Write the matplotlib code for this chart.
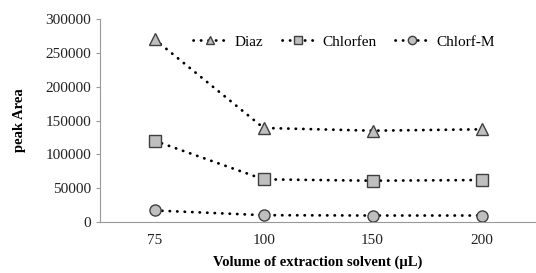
import numpy as np
import matplotlib.pyplot as plt

plt.rcParams['font.family'] = ['Liberation Serif', 'DejaVu Serif']

volumes = ['75', '100', '150', '200']
diaz = [270000, 139000, 135000, 137000]
chlorfen = [120000, 63000, 61000, 62000]
chlorf_m = [17000, 10000, 9500, 9500]

fig = plt.figure(figsize=(5.36, 2.73), dpi=100)
ax = fig.add_axes([0.187, 0.187, 0.813, 0.743])

x = np.arange(len(volumes))
style = dict(color='black', linestyle=(0, (0.1, 2.6)), linewidth=2.0,
             dash_capstyle='round', markersize=8, markerfacecolor='#bfbfbf',
             markeredgecolor='#404040', markeredgewidth=1.0)
ax.plot(x, diaz, marker='^', label='Diaz', **style)
ax.plot(x, chlorfen, marker='s', label='Chlorfen', **style)
ax.plot(x, chlorf_m, marker='o', label='Chlorf-M', **style)

ax.set_xlim(-0.5, 3.5)
ax.set_ylim(0, 300000)
ax.set_yticks(np.arange(0, 300001, 50000))
ax.set_xticks(x)
ax.set_xticklabels(volumes)
ax.tick_params(axis='both', labelsize=11, colors='#222222', length=3, color='#999999')
ax.tick_params(axis='x', length=0, pad=9)

for s in ['top', 'right']:
    ax.spines[s].set_visible(False)
ax.spines['left'].set_color('#999999')
ax.spines['bottom'].set_color('#999999')

ax.set_ylabel('peak Area', fontsize=10.5, fontweight='bold', labelpad=14)
ax.set_xlabel('Volume of extraction solvent (\u00b5L)', fontsize=10.5,
              fontweight='bold', labelpad=6)

ax.legend(loc='upper center', bbox_to_anchor=(0.56, 0.99), ncol=3, frameon=False,
          fontsize=11, handlelength=2.2, columnspacing=1.2, handletextpad=0.5,
          markerscale=0.75)

fig.savefig('out.png', dpi=100)
